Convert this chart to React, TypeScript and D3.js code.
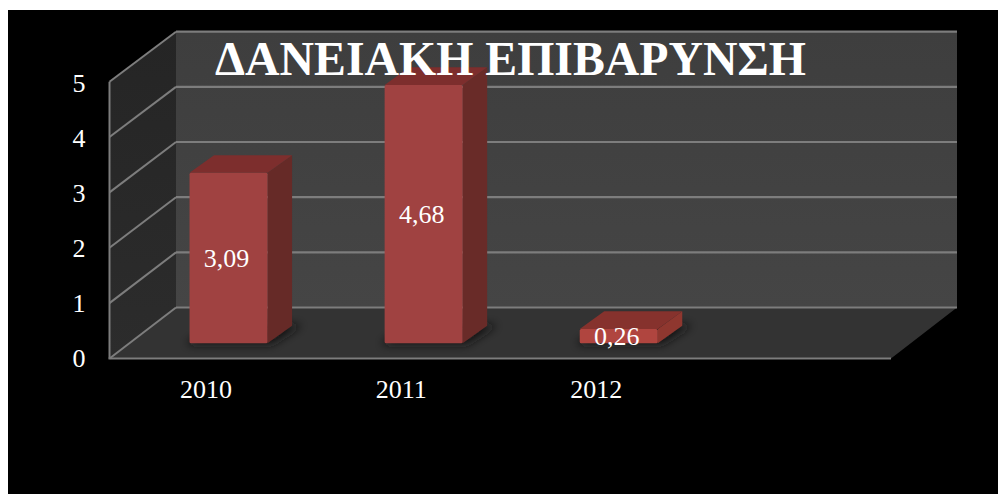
import React from "react";
import * as d3 from "d3";

const categories = ["2010", "2011", "2012", ""];
const loanValues = [3.09, 4.68, 0.26];
const valueLabels = ["3,09", "4,68", "0,26"];
const yTicks = [0, 1, 2, 3, 4, 5];
const titleText = "ΔΑΝΕΙΑΚΗ ΕΠΙΒΑΡΥΝΣΗ";

// Face shading per bar: the flat 2012 block catches more light.
const frontFills = ["#a04241", "#a04241", "#b0453f"];
const sideFills = ["#662a27", "#692b28", "#8f372f"];
const topFills = ["#7d2e2d", "#7d2e2d", "#86322d"];

const WIDTH = 998;
const HEIGHT = 494;
const FONT = "'Liberation Serif', serif";

// Projection of the 3D box: front plane of the axes, back wall, and bar depth.
const frontLeft = 109.5;
const frontRight = 891;
const backLeft = 176;
const backRight = 957;
const yFront = d3.scaleLinear().domain([0, 5]).range([358.5, 81.7]);
const yBack = d3.scaleLinear().domain([0, 5]).range([307.5, 31.7]);
const yBar = d3.scaleLinear().domain([0, 5]).range([343.3, 67.3]);
const yTickLabel = d3.scaleLinear().domain([0, 5]).range([366.7, 92]);
const xBand = d3.scaleBand<string>().domain(categories).range([131, 911.4]).paddingInner(0.6).paddingOuter(0.3);
const depthX = 24.5;
const depthY = -17.6;

const pts = (p: [number, number][]) => p.map((q) => q.join(",")).join(" ");

export default function App() {
  const zero = yBar(0);
  return (
    <svg
      width={WIDTH}
      height={HEIGHT}
      viewBox={`0 0 ${WIDTH} ${HEIGHT}`}
      style={{ position: "absolute", left: 0, top: 0, display: "block" }}
    >
      <defs>
        <linearGradient id="wall" x1="0" y1="0" x2="0" y2="1">
          <stop offset="0" stopColor="#3e3e3e" />
          <stop offset="1" stopColor="#454545" />
        </linearGradient>
        <linearGradient id="sideWall" x1="0" y1="0" x2="0" y2="1">
          <stop offset="0" stopColor="#252525" />
          <stop offset="1" stopColor="#2c2c2c" />
        </linearGradient>
        <filter id="soft" x="-30%" y="-100%" width="160%" height="300%">
          <feGaussianBlur stdDeviation="5" />
        </filter>
      </defs>

      <rect width={WIDTH} height={HEIGHT} fill="#fff" />
      <rect x={8} y={10} width={WIDTH - 8} height={HEIGHT - 10} fill="#000" />

      {/* Back wall, side wall and floor */}
      <rect x={backLeft} y={yBack(5)} width={backRight - backLeft} height={yBack(0) - yBack(5)} fill="url(#wall)" />
      <polygon
        points={pts([
          [frontLeft, yFront(5)],
          [backLeft, yBack(5)],
          [backLeft, yBack(0)],
          [frontLeft, yFront(0)],
        ])}
        fill="url(#sideWall)"
      />
      <polygon
        points={pts([
          [frontLeft, yFront(0)],
          [backLeft, yBack(0)],
          [backRight, yBack(0)],
          [frontRight, yFront(0)],
        ])}
        fill="#333333"
      />

      {/* Gridlines wrapping from the side wall onto the back wall */}
      {yTicks.map((t) => (
        <g key={t} fill="none" stroke="#7d7d7d">
          <line x1={frontLeft} y1={yFront(t)} x2={backLeft} y2={yBack(t)} strokeWidth={2} />
          <line x1={backLeft} y1={yBack(t)} x2={backRight} y2={yBack(t)} strokeWidth={2.2} />
        </g>
      ))}
      <line x1={frontLeft} y1={yFront(5)} x2={frontLeft} y2={yFront(0)} stroke="#7d7d7d" strokeWidth={2} />
      <line x1={frontLeft - 1} y1={yFront(0)} x2={frontRight} y2={yFront(0)} stroke="#7d7d7d" strokeWidth={2.2} />

      {/* Bars with contact shadows */}
      {loanValues.map((v, i) => {
        const x0 = xBand(categories[i]) as number;
        const x1 = x0 + xBand.bandwidth();
        const top = yBar(v);
        return (
          <g key={categories[i]}>
            <polygon
              points={pts([
                [x0 - 4, zero + 1],
                [x1 + 4, zero + 1],
                [x1 + depthX + 10, zero + depthY - 1],
                [x0 + depthX, zero + depthY - 1],
              ])}
              fill="#171717"
              filter="url(#soft)"
            />
            <polygon
              points={pts([
                [x1, top],
                [x1 + depthX, top + depthY],
                [x1 + depthX, zero + depthY],
                [x1, zero],
              ])}
              fill={sideFills[i]}
            />
            <polygon
              points={pts([
                [x0, top],
                [x0 + depthX, top + depthY],
                [x1 + depthX, top + depthY],
                [x1, top],
              ])}
              fill={topFills[i]}
            />
            <rect
              x={x0}
              y={top}
              width={x1 - x0}
              height={zero - top}
              rx={1.5}
              fill={frontFills[i]}
            />
          </g>
        );
      })}

      {/* Axis labels */}
      {yTicks.map((t) => (
        <text
          key={t}
          x={79}
          y={yTickLabel(t)}
          textAnchor="middle"
          fontFamily={FONT}
          fontSize={26}
          fill="#fff"
        >
          {t}
        </text>
      ))}
      {categories.slice(0, 3).map((c) => (
        <text
          key={c}
          x={(xBand(c) as number) + xBand.bandwidth() / 2 - 22.5}
          y={398.3}
          textAnchor="middle"
          fontFamily={FONT}
          fontSize={26}
          fill="#fff"
        >
          {c}
        </text>
      ))}

      {/* Value labels inside the bars */}
      {valueLabels.map((label, i) => {
        const x0 = xBand(categories[i]) as number;
        const mid = (yBar(loanValues[i]) + zero) / 2;
        return (
          <text
            key={label}
            x={x0 + xBand.bandwidth() / 2 - 2}
            y={mid + 9}
            textAnchor="middle"
            fontFamily={FONT}
            fontSize={26}
            fill="#fff"
          >
            {label}
          </text>
        );
      })}

      <text x={215} y={75} fontFamily={FONT} fontWeight="bold" fontSize={47.8} fill="#fff">
        {titleText}
      </text>
    </svg>
  );
}
